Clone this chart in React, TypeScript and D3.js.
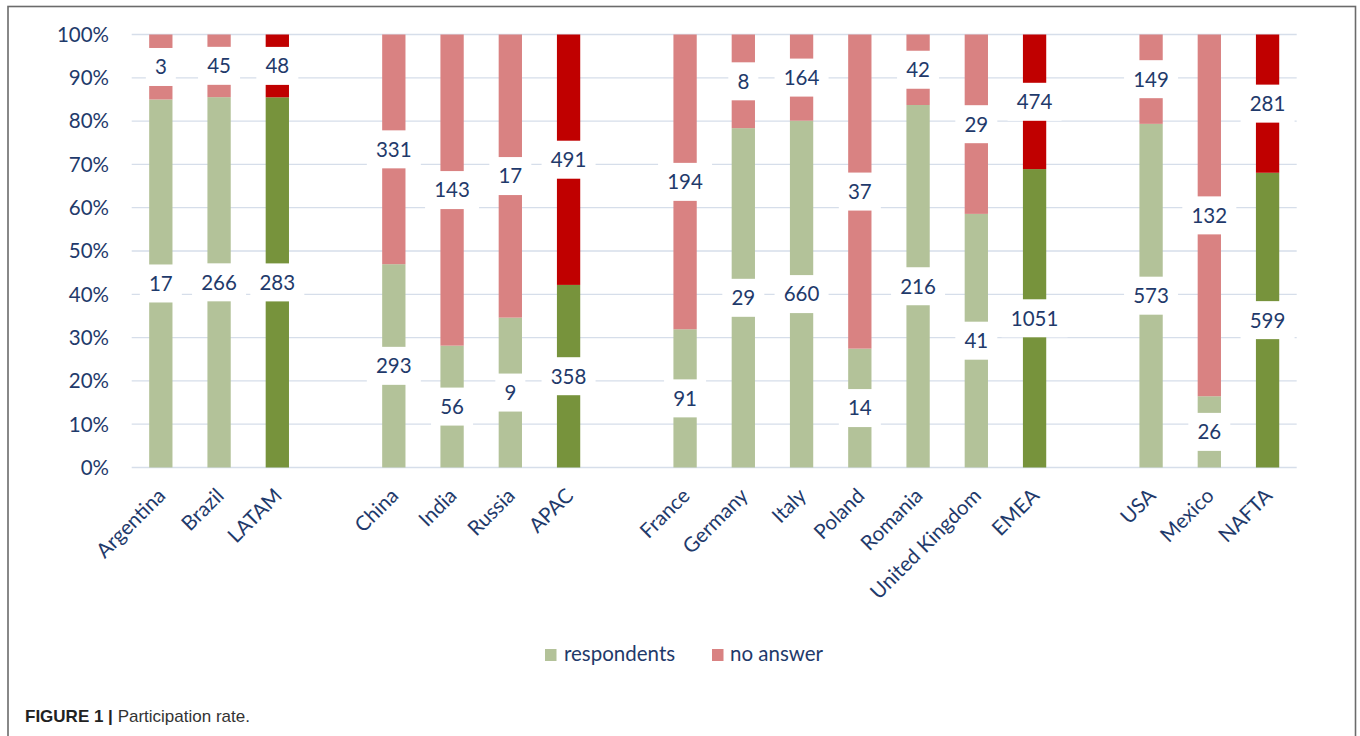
import React from "react";
import * as d3 from "d3";

const categories = ["Argentina", "Brazil", "LATAM", "China", "India", "Russia", "APAC", "France", "Germany", "Italy", "Poland", "Romania", "United Kingdom", "EMEA", "USA", "Mexico", "NAFTA"];
const respondents = [17, 266, 283, 293, 56, 9, 358, 91, 29, 660, 14, 216, 41, 1051, 573, 26, 599];
const noAnswer = [3, 45, 48, 331, 143, 17, 491, 194, 8, 164, 37, 42, 29, 474, 149, 132, 281];
const aggregates = ["LATAM", "APAC", "EMEA", "NAFTA"];
const yTicks = [0, 0.1, 0.2, 0.3, 0.4, 0.5, 0.6, 0.7, 0.8, 0.9, 1.0];
const seriesNames = ["respondents", "no answer"];
const caption = ["FIGURE 1 |", "Participation rate."];

const W = 1360;
const H = 736;
const FONT = "Lato, 'Open Sans', sans-serif";
const NAVY = "#1f3a6b";
const C_RESP = "#b3c299";
const C_NOANS = "#d98282";
const C_RESP_AGG = "#77933c";
const C_NOANS_AGG = "#c00000";

export default function App() {
  // domain with empty slots after each regional aggregate (except the last)
  const domain: string[] = [];
  categories.forEach((c) => {
    domain.push(c);
    const ai = aggregates.indexOf(c);
    if (ai >= 0 && ai < aggregates.length - 1) domain.push("__gap" + ai);
  });

  const x = d3.scaleBand<string>().domain(domain).range([131.7, 1296.7]).paddingInner(0.6).paddingOuter(0.3);
  const y = d3.scaleLinear().domain([0, 1]).range([467.5, 34.5]);

  const rows = categories.map((c, i) => {
    const total = respondents[i] + noAnswer[i];
    return { c, r: respondents[i], n: noAnswer[i], rp: respondents[i] / total, agg: aggregates.includes(c) };
  });

  const stack = d3.stack<any>().keys(["rp", "np"]).value((d: any, k) => (k === "rp" ? d.rp : 1 - d.rp));
  const series = stack(rows as any);

  const fmtPct = d3.format(".0%");
  const labelW = (s: string) => s.length * 12 + 18;
  const boxH = 38;

  return (
    <svg width={W} height={H} style={{ position: "absolute", left: 0, top: 0, display: "block", background: "#fff" }}>
      <rect x={8} y={6.5} width={1347.5} height={760} fill="#fff" stroke="#6b6b6b" strokeWidth={1.6} />
      {/* gridlines */}
      {yTicks.map((t) => (
        <line key={"g" + t} x1={131.7} x2={1296.7} y1={y(t)} y2={y(t)} stroke="#d6deea" strokeWidth={1.3} />
      ))}
      {/* y tick labels */}
      {yTicks.map((t) => (
        <text key={"yt" + t} x={109} y={y(t)} dy="0.36em" textAnchor="end" fontFamily={FONT} fontSize={20.5} fill={NAVY}>
          {fmtPct(t)}
        </text>
      ))}
      {/* bars */}
      {series.map((s, si) =>
        s.map((d: any, i) => {
          const row = rows[i];
          const fill = si === 0 ? (row.agg ? C_RESP_AGG : C_RESP) : row.agg ? C_NOANS_AGG : C_NOANS;
          return (
            <rect key={"b" + si + "-" + i} x={x(row.c)} width={x.bandwidth()} y={y(d[1])} height={y(d[0]) - y(d[1])} fill={fill} />
          );
        })
      )}
      {/* value labels */}
      {series.map((s, si) =>
        s.map((d: any, i) => {
          const row = rows[i];
          const val = String(si === 0 ? row.r : row.n);
          const cx = (x(row.c) as number) + x.bandwidth() / 2;
          const cy = y((d[0] + d[1]) / 2);
          const w = labelW(val);
          return (
            <g key={"l" + si + "-" + i}>
              <rect x={cx - w / 2} y={cy - boxH / 2} width={w} height={boxH} fill="#fff" />
              <text x={cx} y={cy} dy="0.36em" textAnchor="middle" fontFamily={FONT} fontSize={20.5} fill={NAVY}>
                {val}
              </text>
            </g>
          );
        })
      )}
      {/* x labels */}
      {categories.map((c) => {
        const cx = (x(c) as number) + x.bandwidth() / 2;
        const ax = cx + 6;
        const ay = 497;
        return (
          <text key={"xl" + c} x={ax} y={ay} textAnchor="end" transform={`rotate(-45, ${ax}, ${ay})`} fontFamily={FONT} fontSize={20.5} fill={NAVY}>
            {c}
          </text>
        );
      })}
      {/* legend */}
      <rect x={545} y={649} width={11.5} height={12} fill={C_RESP} />
      <text x={564} y={661} fontFamily={FONT} fontSize={20.5} fill={NAVY}>{seriesNames[0]}</text>
      <rect x={712} y={649} width={11.5} height={12} fill={C_NOANS} />
      <text x={730} y={661} fontFamily={FONT} fontSize={20.5} fill={NAVY}>{seriesNames[1]}</text>
      {/* caption */}
      <text x={25} y={722} fontFamily="'Liberation Sans', Arial, sans-serif" fontSize={17} fill="#222">
        <tspan fontWeight="bold">{caption[0]}</tspan>
        <tspan fill="#333"> {caption[1]}</tspan>
      </text>
    </svg>
  );
}
